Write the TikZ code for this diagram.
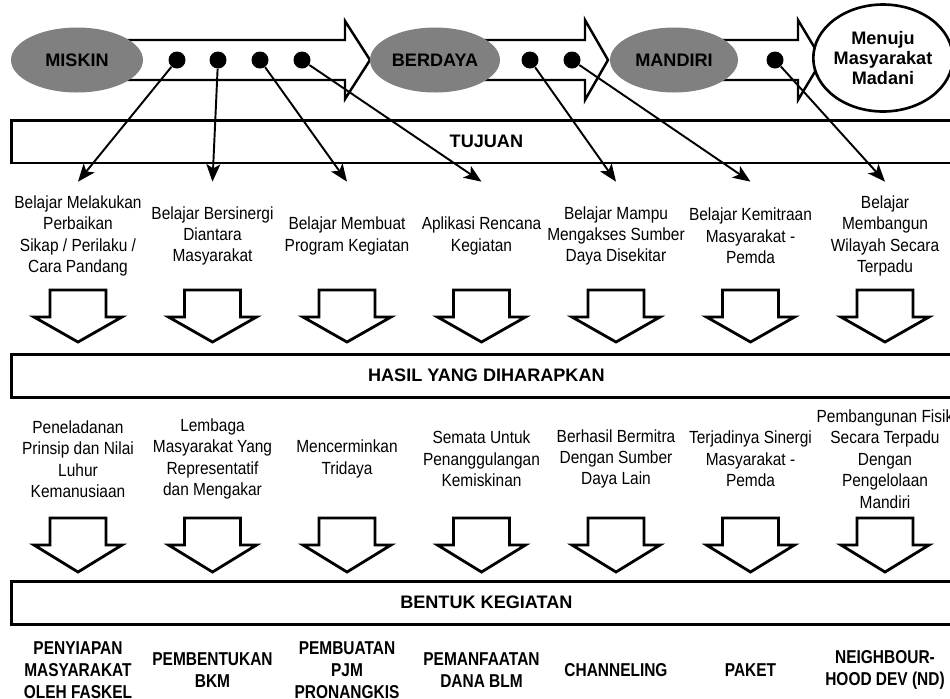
\documentclass[tikz,border=0pt]{standalone}
\usepackage{fontspec}
\setmainfont{Liberation Sans}
\newfontfamily\narrowfont[FakeStretch=0.88]{Liberation Sans}
\newfontfamily\condfont[FakeStretch=0.83]{Liberation Sans}
\usetikzlibrary{shapes.geometric, arrows.meta, positioning}
\definecolor{stagegray}{RGB}{128,128,128}

\begin{document}
\begin{tikzpicture}[
  x=0.02cm, y=-0.02cm,
  stage/.style={
    ellipse, fill=stagegray, inner sep=0pt,
    minimum width=2.64cm, minimum height=1.3cm,
    font=\fontsize{10.3}{12}\selectfont\bfseries
  },
  goalstage/.style={
    ellipse, draw=black, line width=1.5pt, fill=white, inner sep=0pt,
    minimum width=2.54cm, minimum height=2.14cm, align=center,
    font=\fontsize{10.3}{11.4}\selectfont\bfseries
  },
  flow/.style={draw=black, line width=1.4pt, fill=white, line join=miter},
  waypoint/.style={circle, fill=black, inner sep=0pt, minimum size=0.34cm},
  band/.style={
    draw=black, line width=1.7pt, fill=white, anchor=west,
    minimum width=19cm, minimum height=0.86cm,
    font=\fontsize{10.3}{12}\selectfont\bfseries
  },
  goal/.style={align=center, inner sep=0pt, minimum height=2.16cm,
    font=\narrowfont\fontsize{10}{12.2}\selectfont},
  result/.style={align=center, inner sep=0pt,
    font=\narrowfont\fontsize{10}{12.2}\selectfont},
  activity/.style={align=center, inner sep=0pt,
    font=\condfont\fontsize{10.6}{12.5}\selectfont\bfseries},
  link/.style={-{Stealth[length=10pt, width=8pt, inset=2.5pt]}, line width=1.1pt},
  blockarrow/.style={draw=black, line width=1.6pt, fill=white, line join=miter},
]
  \useasboundingbox (0,0) rectangle (950,698);
  \clip (0,0) rectangle (950,698);

  % stages along the path
  \draw[flow] (120,40) -- (345,40) -- (345,21) -- (370,60) -- (345,99) -- (345,80) -- (120,80) -- cycle;
  \draw[flow] (480,40) -- (585,40) -- (585,20) -- (608,60) -- (585,100) -- (585,80) -- (480,80) -- cycle;
  \draw[flow] (720,40) -- (798,40) -- (798,20) -- (822,60) -- (798,100) -- (798,80) -- (720,80) -- cycle;

  \node[stage] (miskin) at (77,60) {MISKIN};
  \node[stage, minimum width=2.6cm] (berdaya) at (435,60) {BERDAYA};
  \node[stage, minimum width=2.56cm] (mandiri) at (674,60) {MANDIRI};
  \node[goalstage] (madani) at (883,58) {Menuju\\Masyarakat\\Madani};

  \foreach \x [count=\i] in {177,218,260,302,530,572,775} {
    \node[waypoint] (d\i) at (\x,60) {};
  }

  % bands
  \node[band] (tujuan) at (10,141.5) {TUJUAN};
  \node[band] (hasil) at (10,375.5) {HASIL YANG DIHARAPKAN};
  \node[band] (bentuk) at (10,602.5) {BENTUK KEGIATAN};

  % tujuan
  \node[goal] (g1) at (78,236) {Belajar Melakukan\\Perbaikan\\Sikap / Perilaku /\\Cara Pandang};
  \node[goal] (g2) at (212.5,236) {Belajar Bersinergi\\Diantara\\Masyarakat};
  \node[goal] (g3) at (347,236) {Belajar Membuat\\Program Kegiatan};
  \node[goal] (g4) at (481.5,236) {Aplikasi Rencana\\Kegiatan};
  \node[goal] (g5) at (616,236) {Belajar Mampu\\Mengakses Sumber\\Daya Disekitar};
  \node[goal] (g6) at (750.5,236) {Belajar Kemitraan\\Masyarakat -\\Pemda};
  \node[goal] (g7) at (885,236) {Belajar\\Membangun\\Wilayah Secara\\Terpadu};

  % hasil
  \node[result] (r1) at (78,459) {Peneladanan\\Prinsip dan Nilai\\Luhur\\Kemanusiaan};
  \node[result] (r2) at (212.5,459) {Lembaga\\Masyarakat Yang\\Representatif\\dan Mengakar};
  \node[result] (r3) at (347,459) {Mencerminkan\\Tridaya};
  \node[result] (r4) at (481.5,459) {Semata Untuk\\Penanggulangan\\Kemiskinan};
  \node[result] (r5) at (616,459) {Berhasil Bermitra\\Dengan Sumber\\Daya Lain};
  \node[result] (r6) at (750.5,459) {Terjadinya Sinergi\\Masyarakat -\\Pemda};
  \node[result] (r7) at (885,459) {Pembangunan Fisik\\Secara Terpadu\\Dengan\\Pengelolaan\\Mandiri};

  % bentuk kegiatan
  \node[activity] (a1) at (78,670) {PENYIAPAN\\MASYARAKAT\\OLEH FASKEL};
  \node[activity] (a2) at (212.5,670) {PEMBENTUKAN\\BKM};
  \node[activity] (a3) at (347,670) {PEMBUATAN\\PJM\\PRONANGKIS};
  \node[activity] (a4) at (481.5,670) {PEMANFAATAN\\DANA BLM};
  \node[activity] (a5) at (616,670) {CHANNELING};
  \node[activity] (a6) at (750.5,670) {PAKET};
  \node[activity] (a7) at (885,670) {NEIGHBOUR-\\HOOD DEV (ND)};

  \foreach \i in {1,...,7} {
    \draw[link] (d\i) -- (g\i.north);
  }

  % hollow down arrows
  \foreach \i in {1,...,7} {
    \pgfmathsetmacro{\cx}{78+134.5*(\i-1)}
    \draw[blockarrow] (\cx-28,290) -- (\cx+28,290) -- (\cx+28,317) -- (\cx+44,317)
      -- (\cx,342) -- (\cx-44,317) -- (\cx-28,317) -- cycle;
    \draw[blockarrow] (\cx-28,518) -- (\cx+28,518) -- (\cx+28,545) -- (\cx+44,545)
      -- (\cx,572) -- (\cx-44,545) -- (\cx-28,545) -- cycle;
  }
\end{tikzpicture}
\end{document}
